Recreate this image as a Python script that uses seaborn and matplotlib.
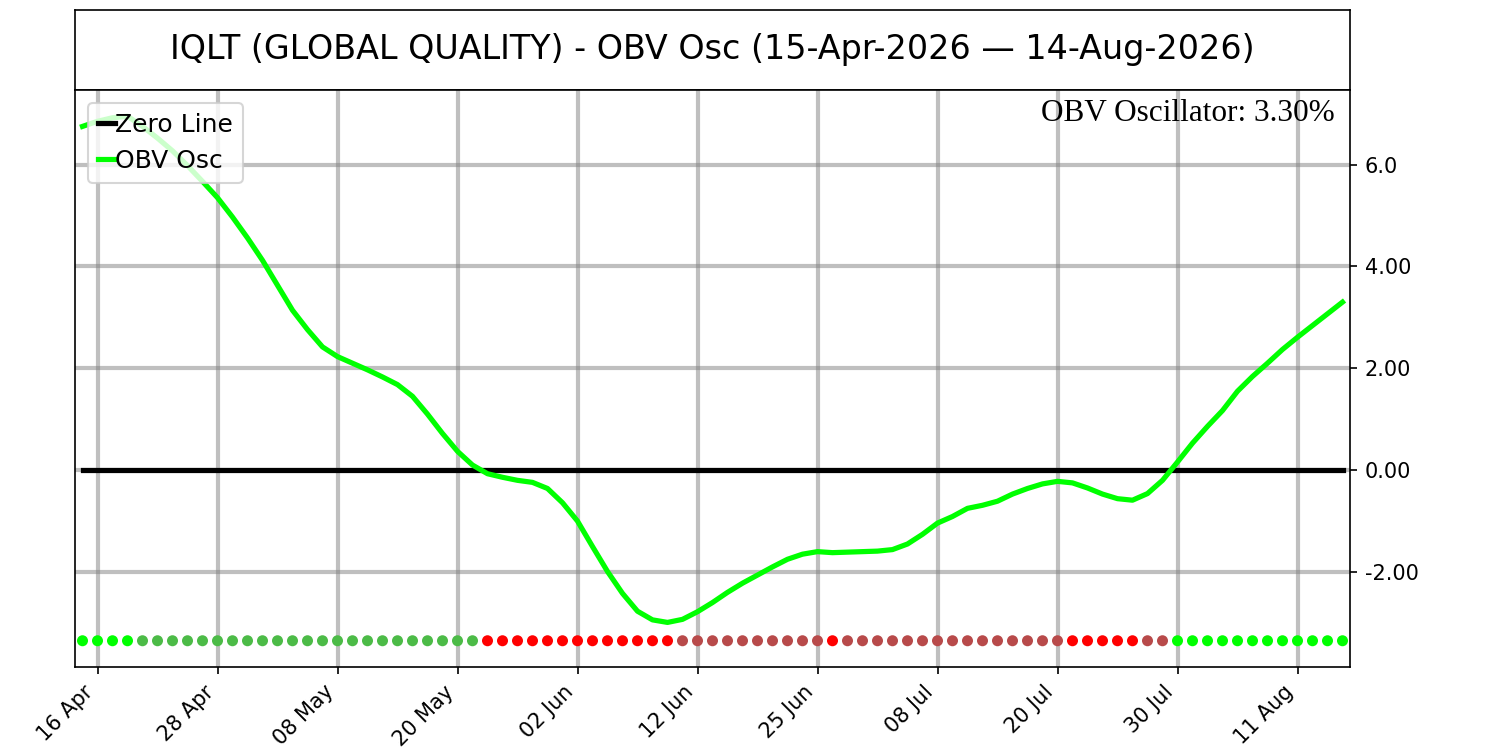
import numpy as np
import pandas as pd
import matplotlib
matplotlib.use("Agg")
import matplotlib.pyplot as plt
import seaborn as sns

# OBV oscillator, one value per trading day (15-Apr-2026 .. 14-Aug-2026)
osc = [6.75, 6.85, 6.92, 6.95, 6.75, 6.52, 6.27, 5.98, 5.67, 5.35,
       4.97, 4.56, 4.12, 3.63, 3.14, 2.76, 2.42, 2.23, 2.10, 1.97,
       1.83, 1.68, 1.45, 1.10, 0.72, 0.37, 0.10, -0.07, -0.14, -0.20,
       -0.24, -0.36, -0.64, -1.00, -1.50, -1.99, -2.42, -2.77, -2.94, -2.99,
       -2.93, -2.78, -2.60, -2.40, -2.22, -2.06, -1.90, -1.75, -1.65, -1.60,
       -1.62, -1.61, -1.60, -1.59, -1.56, -1.45, -1.26, -1.04, -0.91, -0.75,
       -0.69, -0.61, -0.47, -0.36, -0.27, -0.22, -0.25, -0.35, -0.47, -0.56,
       -0.59, -0.46, -0.20, 0.16, 0.53, 0.86, 1.17, 1.55, 1.84, 2.10,
       2.37, 2.61, 2.84, 3.07, 3.30]

tick_pos = [1, 9, 17, 25, 33, 41, 49, 57, 65, 73, 81]
tick_labels = ["16 Apr", "28 Apr", "08 May", "20 May", "02 Jun", "12 Jun",
               "25 Jun", "08 Jul", "20 Jul", "30 Jul", "11 Aug"]
ytick_pos = [-2, 0, 2, 4, 6]
ytick_labels = ["-2.00", "0.00", "2.00", "4.00", "6.0"]

title = "IQLT (GLOBAL QUALITY) - OBV Osc (15-Apr-2026 \u2014 14-Aug-2026)"
dot_level = -3.35

df = pd.DataFrame({"idx": np.arange(len(osc)), "osc": osc})
rising = df["osc"].diff().fillna(0) >= 0
above = df["osc"] > 0
df["state"] = np.where(above, np.where(rising, "up_pos", "down_pos"),
                       np.where(rising, "up_neg", "down_neg"))
df["zero"] = 0.0
df["dot"] = dot_level

palette = {"up_pos": "#00ff00", "down_pos": "#4cbb47",
           "down_neg": "#ff0000", "up_neg": "#b84a4a"}

fig = plt.figure(figsize=(10, 5), dpi=150)

# title box
ax_t = fig.add_axes([0.05, 0.88, 0.85, 0.1067])
ax_t.set_xticks([])
ax_t.set_yticks([])
ax_t.text(0.5, 0.5, title, ha="center", va="center", fontsize=16,
          transform=ax_t.transAxes)

ax = fig.add_axes([0.05, 0.1107, 0.85, 0.7693])
sns.lineplot(data=df, x="idx", y="zero", ax=ax, color="black", linewidth=2.5,
             label="Zero Line")
sns.lineplot(data=df, x="idx", y="osc", ax=ax, color="#00ff00", linewidth=2.5,
             label="OBV Osc")
sns.scatterplot(data=df, x="idx", y="dot", hue="state", palette=palette,
                ax=ax, s=28, linewidth=0, legend=False, zorder=3)

ax.set_xlim(-0.5, len(osc) - 0.5)
ax.set_xticks(tick_pos)
ax.set_xticklabels(tick_labels, rotation=45, ha="right", fontsize=10)
ax.set_yticks(ytick_pos)
ax.set_yticklabels(ytick_labels, fontsize=10)
ax.yaxis.tick_right()
ax.set_xlabel("")
ax.set_ylabel("")
ax.grid(True, color="gray", alpha=0.5, linewidth=2)

ax.text(0.988, 0.985, "OBV Oscillator: 3.30%", transform=ax.transAxes,
        ha="right", va="top", fontsize=15, family="Liberation Serif")

ax.legend(loc="upper left", fontsize=12, handlelength=0.7, handletextpad=0.0)

plt.savefig("out.png", dpi=150)
